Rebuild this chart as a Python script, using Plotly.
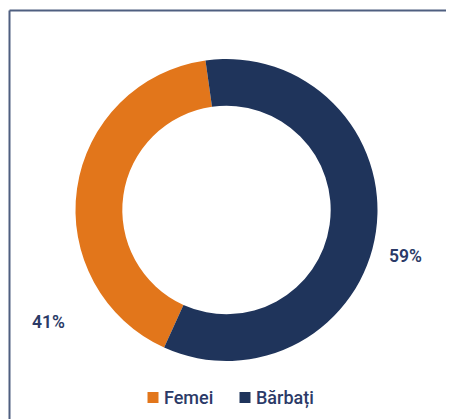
import plotly.graph_objects as go

labels = ["Femei", "Bărbați"]
values = [41, 59]
colors = ["#E2761B", "#1F345B"]

OFF = 8  # default page body margin
W, H = 454 - OFF, 419 - OFF
ml, mt = 75 - OFF, 59 - OFF
pw, ph = 303, 302
mr, mb = W - ml - pw, H - mt - ph
TEXT = "#2B3A67"
FONT = "Roboto"

def px2paper(x, y):
    # x, y are page pixels
    return (x - OFF - ml) / pw, (mt + ph - (y - OFF)) / ph

fig = go.Figure(go.Pie(
    labels=labels, values=values,
    marker=dict(colors=colors, line=dict(width=0)),
    hole=0.69, sort=False, direction="counterclockwise", rotation=-155.6,
    textinfo="none", hoverinfo="label+percent", showlegend=False,
))

# percentage labels
label_pos = [(48, 322), (405, 256)]
total = sum(values)
for (x, y), v in zip(label_pos, values):
    xp, yp = px2paper(x, y)
    fig.add_annotation(x=xp, y=yp, xref="paper", yref="paper",
                       text=f"{round(100 * v / total)}%", showarrow=False,
                       xanchor="center", yanchor="middle",
                       font=dict(family=FONT, size=17.5, color=TEXT, weight=600))

# legend (square + label), laid out under the ring
legend_x = [147.5, 239.5]
legend_y = 397.5
sq = 11
for name, col, x in zip(labels, colors, legend_x):
    x0, y0 = px2paper(x, legend_y + sq / 2)
    x1, y1 = px2paper(x + sq, legend_y - sq / 2)
    fig.add_shape(type="rect", xref="paper", yref="paper", x0=x0, x1=x1, y0=y0, y1=y1,
                  fillcolor=col, line=dict(width=0))
    tx, ty = px2paper(x + sq + 3, legend_y)
    fig.add_annotation(x=tx, y=ty, xref="paper", yref="paper", text=name, showarrow=False,
                       xanchor="left", yanchor="middle",
                       font=dict(family=FONT, size=18, color=TEXT, weight=500))

# frame
bx, by = px2paper(9.5, 10.5)
fig.add_shape(type="line", xref="paper", yref="paper", x0=bx, x1=3, y0=by, y1=by,
              line=dict(color="#4F5F80", width=2))
fig.add_shape(type="line", xref="paper", yref="paper", x0=bx, x1=bx, y0=by, y1=-3,
              line=dict(color="#4F5F80", width=2))

fig.update_layout(
    width=W, height=H,
    margin=dict(l=ml, r=mr, t=mt, b=mb, autoexpand=False),
    paper_bgcolor="white", plot_bgcolor="white",
    showlegend=False,
)

fig.write_html("out.html")
